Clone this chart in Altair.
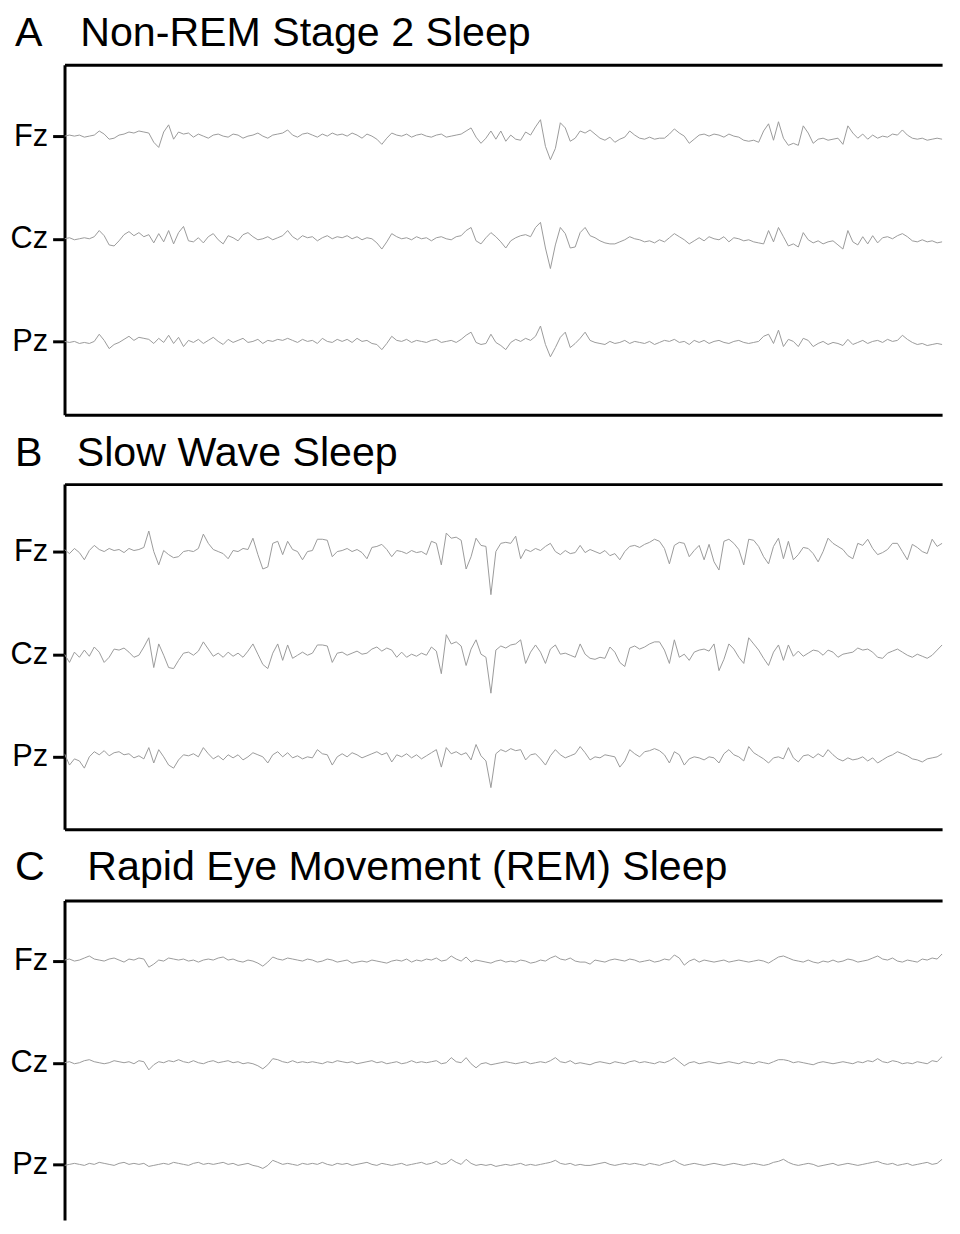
import altair as alt
import pandas as pd

FONT = "Liberation Sans"
CHANNELS = ["Fz", "Cz", "Pz"]
OFFSETS = [300, 200, 100]
STEP = 0.2  # seconds between samples

NB = "\u00a0\u00a0\u00a0"
TITLES = {
    "A": "A" + NB + "\u200a" + "Non-REM Stage 2 Sleep",
    "B": "B" + NB + "Slow Wave Sleep",
    "C": "C" + NB + "\u2009" + "Rapid Eye Movement (REM) Sleep",
}

# ---- Panel A: Non-REM stage 2 (amplitude, up = positive) ----
FZ_A = [0,1,0,1,-1,0,1, 5,2, -3,-2,1, 2,4,3,5,4, 3,-6,-11,4,11, -3,4,2,3,-1,2,
        0,-2,1,2,0,-1,2,1,-2,0,1,3,0,-2,1,2,3,6, 1,-1,2,3,1,-1,2,0,3,1,
        2,0,3,1,-2,2,0,-3,-8, -2,3,1,0,2,-1,1,2,0,-1,1,2,-1,0,1,2,5,
        8,-1,-7,-2,5,-3,5,-5,1,-3,-4,4,1, 9,16,-10,-23,-12,13,8,-5,-2,5,3,6,2,
        -2,-4,-1,-6,-3,-1,5,1, -2,-3,-1,-3,-2,-2,2, 7,3,0,-7,-3,
        1,2,0,2,1,-1,2,0,-1,-4, -5,-4,-6, 5,12,-4,14,-2,-9,-7,-9,10,
        3,-7,-3,-2,-4,-3,-2,-8, 10,3,-2,2,-3,1,-2,0,-1,2,1,
        6,1,-2,-3,-2,-4,-3,-2,-3,-4,-3]
CZ_A = [0,1,-1,0,1,0,2, 8,3, -6,-7,-2, 4,7,3,6,2, 4,-4,5,-3,8, -5,6,12,-2,-3,1,
        -4,2,5,-1,-5,3,1,-2,4,6,2,-1,0,2,-1,1,3,8, 2,-1,3,1,2,-2,1,3,0,2,
        1,3,0,2,-1,1,0,-4,-10, -3,5,2,0,1,-1,2,0,1,-2,1,2,0,-1,2,3,8,
        11,-2,-5,1,6,2,-3,-9,-2,1,3,4,2, 11,16,-9,-29,-6,11,5,-9,-8,6,11,3,1,
        -2,-4,-5,-5,-3,-1,2,0, -1,-3,-2,-4,-1,-3,1, 5,2,-1,-5,-2,
        1,-2,2,0,-1,2,-3,1,0,-2, -1,-3,-4, -5,8,-3,11,2,-7,-5,-8,6,
        -1,-4,-2,-5,-3,-2,-6,-10, 8,-3,-6,2,-5,3,-4,1,2,0,3,
        5,2,-2,-3,-1,-3,-2,-4,-3,-2,-3]
PZ_A = [0,-1,0,-2,-1,-2,0, 7,1, -7,-3,-1, 2,5,1,4,3, 2,-2,3,-1,6, -2,4,-5,1,-1,2,
        -2,1,4,0,-3,2,-1,1,3,-1,0,2,-2,1,0,2,1,3, 1,-1,2,0,1,-2,3,0,-1,2,
        0,2,-1,3,0,1,-2,-3,-8, -2,5,1,0,2,-1,1,0,-1,1,2,-1,0,1,-1,2,6,
        9,-1,-3,-2,7,-1,-4,-8,-1,2,0,3,1, 5,15,-3,-15,-6,4,9,-6,-2,3,9,1,-1,
        -2,-3,0,-2,-1,1,-2,0, -1,-2,0,-3,-1,1,0, 2,-1,0,-3,1,
        -1,1,-2,0,1,-1,-2,0,1,-1, -2,-1,0, 5,7,-2,11,-5,2,0,-5,3,
        1,-5,-2,0,-3,-1,-2,-4, 2,-3,-1,1,-2,0,1,-1,2,0,1,
        6,2,-1,-3,-2,-4,-3,-2,-3,-4,-2]

# ---- Panel B: slow wave sleep ----
FZ_B = [2,-2,3,-1,-8,1, 6,2,0,3,1,2,-1,3,1,2,4, 20,0,-13,1,-3, -6,-5,0,1,0,3,
        17,8,2,0,-2,-7, 1,0,3,2,13,-3, -17,-15,8,10,-3,10,2,0, -8,0,1,12,12,11,-5,0,
        1,3,0,2,-1,-7, 4,5,7,2,-5,1, 0,-2,1,-1,0,-3, 10,8,-13,18,13,14,11,-17,
        -5,13,6,5,-42,0, 8,9,8,15,-7,2,0, 3,1,5,8,0,-3,1,-2,-1,6,-1,2,0,
        -2,1,-4,-2,-8,0,5,6,4,7,9,12, 10,3,-12,6,9,8,-5,1, 6,-8,7,-10,-18,10,12,8,
        2,-13,12,11,5,-5,-12,5,13,-7,10,-8, -3,4,3,-2,-10,0,13,8,5,2,-4,-7,
        8,6,12,3,-3,-1,2,8,8,0,-8,7,4,0,-2,12,5,8,9,10]
CZ_B = [0,-8,2,-3,4,-2, 7,2,-8,-3,5,4,6,2,-3,-1,7, 16,-13,10,-1,-13, -14,-6,1,2,-1,3,
        12,5,-2,1,-3,2, -2,1,-3,3,10,0, -10,-14,1,10,-6,9,-4,-1, 2,-1,1,9,9,8,-8,1,
        2,-1,1,3,0,1, 5,7,3,6,4,-3, 2,-3,0,-2,1,-1, 7,3,-19,19,10,12,8,-11,
        5,14,0,-3,-38,4, 8,6,9,10,14,-9,2, 9,2,-9,5,9,0,1,-1,-3,10,0,-4,-5,
        -3,-4,7,2,-8,-12,6,8,5,7,10,12, 12,4,-9,14,-3,0,-6,2, 4,5,3,10,-16,-5,10,5,
        -3,-9,16,10,4,-4,-11,2,9,-6,9,-2, 3,-2,1,4,3,-1,4,2,-3,0,1,2,
        6,4,5,2,-3,-4,1,3,5,2,-1,-3,0,-2,-4,-1,4,9,7,6]
PZ_B = [3,-8,-2,-4,-11,0, 5,2,6,1,4,5,2,3,-1,1,-2, 9,-6,7,0,-8, -11,-3,2,1,3,0,
        9,3,-2,1,-3,2, -1,2,-3,0,4,2, 0,-6,2,5,0,4,-1,1, -2,0,-1,7,3,2,-8,0,
        3,0,4,2,-1,1, 3,5,2,4,-5,2, 0,3,-1,2,-2,1, 4,7,-10,9,3,5,2,4,
        -3,12,1,-4,-30,3, 7,5,8,6,7,-3,2, 3,-2,-8,1,7,2,-1,1,3,10,4,-3,0,
        -1,2,1,0,-10,-4,7,3,0,5,6,8, 6,2,-6,5,2,-8,-2,0, -1,-3,0,-1,-6,3,7,2,
        0,-4,10,4,1,-2,-6,-1,0,-2,9,-1, -5,1,2,-1,3,0,7,2,-2,-4,-1,-3,
        -2,0,-4,-1,-6,-3,0,2,5,3,1,-2,-3,-5,-2,-1,0,3,5,2]

# ---- Panel C: REM sleep ----
FZ_C = [1,2,0,1,3,5,2,1,0,2,3,1,-1,2,1,3,2, -6,-3,1,0,3,2,1,2,0,1,-1,1,2,1,3,4,
        1,2,0,-1,1,0,-2,-5,-1,4,2,1,3,2,1,0,2, 1,-1,0,2,1,-1,0,1,-2,-1,0,-1,1,0,-1,-2,0,
        1,0,2,-1,1,0,2,1,3,0,1,5,2,0,4,-1,1, 0,-1,-2,0,1,-1,0,-1,1,0,-2,-1,1,0,3,5,
        2,1,3,0,-1,-1,-3,1,0,-1,1,2,1,0,2,1, -1,0,1,-1,0,2,1,6,3,-4,0,2,-1,1,0,-1,
        0,1,-1,0,1,0,-1,0,1,0,-2,1,4,5,3,1, 0,-1,1,-1,-2,0,-1,1,-1,0,2,1,-1,0,1,3,
        5,2,1,3,0,-1,1,0,-1,2,1,3,2,7,0,-2]
CZ_C = [0,1,-1,0,2,3,1,0,-1,0,2,1,0,1,-1,2,1, -7,-2,1,0,2,1,3,1,0,2,0,-1,1,2,0,1,
        2,0,1,-1,0,-1,-3,-6,-2,4,3,1,0,2,0,1,0, 1,0,-1,1,0,2,1,0,1,-1,0,1,2,0,1,-1,0,
        1,-1,0,2,0,1,0,1,2,-1,0,5,1,0,5,-1,-5, -1,0,-2,-1,0,1,0,-1,0,1,-1,0,1,0,2,5,
        1,0,2,-1,0,-1,-2,0,1,0,-1,1,0,-1,1,2, 0,1,0,-1,1,0,2,5,1,-3,0,1,-1,0,1,0,
        -1,0,1,0,-1,1,0,-1,1,0,-1,1,3,3,2,0, 1,0,-1,-2,0,1,0,-1,0,1,0,-1,1,0,2,1,
        4,1,0,2,1,-1,0,-1,1,0,-1,2,1,6,-2,-5]
PZ_C = [-1,0,1,0,-1,1,0,2,1,0,-1,1,2,0,1,0,1, -2,-1,0,1,0,2,1,0,-1,1,2,0,1,0,1,2,
        0,1,-1,0,1,-1,-2,-4,-1,4,2,0,1,0,-1,1,0, 1,0,2,0,-1,1,0,1,-1,0,1,2,0,-1,1,0,-1,
        0,1,-1,0,1,2,0,1,3,0,1,5,2,0,5,1,-1, 0,-1,0,-2,-1,0,-1,0,1,-1,0,-1,0,1,2,4,
        1,0,1,-1,0,-1,-1,0,1,2,0,-1,0,1,0,1, 0,-1,1,0,-1,1,2,4,1,-1,0,1,0,-1,0,1,
        0,-1,0,1,0,-1,0,1,0,-1,0,2,3,5,2,0, -1,0,1,0,-2,-1,0,1,-1,0,1,0,-1,0,1,2,
        3,1,0,1,-1,0,1,-1,0,1,2,0,1,5,1,-1]

TRACES = {
    "A": [FZ_A, CZ_A, PZ_A],
    "B": [FZ_B, CZ_B, PZ_B],
    "C": [FZ_C, CZ_C, PZ_C],
}

rows = []
for panel, arrs in TRACES.items():
    for ch, off, arr in zip(CHANNELS, OFFSETS, arrs):
        for i, v in enumerate(arr):
            rows.append({"panel": panel, "channel": ch, "t": round(i * STEP, 3), "y": off + v})
df = pd.DataFrame(rows)

PLOT_W = 885
XMAX = PLOT_W / 25.0
LAYOUT = {  # height, y-domain, bottom border, title offset
    "A": (353, [28.6, 369.6], True, 10),
    "B": (348, [29.5, 365.7], True, 10),
    "C": (322, [45.4, 359.5], False, 12),
}

label_expr = "datum.value == 300 ? 'Fz' : datum.value == 200 ? 'Cz' : 'Pz'"


def yaxis():
    return alt.Axis(values=OFFSETS, labelExpr=label_expr, title=None, grid=False,
                    labelFont=FONT, labelFontSize=31, labelColor="black", labelPadding=5,
                    tickSize=12, tickWidth=3, tickColor="black",
                    domainColor="black", domainWidth=3)


def xaxis(orient):
    return alt.Axis(orient=orient, ticks=False, labels=False, title=None,
                    grid=False, domainWidth=3, domainColor="black")


def panel(key):
    h, dom, bottom, toff = LAYOUT[key]
    xscale = alt.Scale(domain=[0, XMAX], nice=False, zero=False)
    yscale = alt.Scale(domain=dom, nice=False, zero=False)
    base = alt.Chart(df).transform_filter(alt.datum.panel == key)
    lines = base.mark_line(clip=True, stroke="#9a9a9a", strokeWidth=1).encode(
        x=alt.X("t:Q", scale=xscale, axis=xaxis("top")),
        y=alt.Y("y:Q", scale=yscale, axis=yaxis()),
        detail="channel:N",
        order="t:Q",
    )
    layers = [lines]
    if bottom:
        layers.append(
            base.mark_line(opacity=0).encode(
                x=alt.X("t:Q", scale=xscale, axis=xaxis("bottom")),
                y=alt.Y("y:Q", scale=yscale, axis=yaxis()),
                detail="channel:N",
            )
        )
    ch = alt.layer(*layers).properties(
        width=PLOT_W, height=h,
        title=alt.TitleParams(text=TITLES[key], anchor="start", frame="bounds",
                              fontSize=41.5, fontWeight="normal", offset=toff, dx=5,
                              color="black", font=FONT),
    )
    if bottom:
        ch = ch.resolve_axis(x="independent")
    return ch


chart = alt.vconcat(panel("A"), panel("B"), panel("C"), spacing=18).properties(
    padding={"left": 2, "top": 0, "right": 0, "bottom": 0},
    background="white",
).configure_view(stroke=None, strokeWidth=0)

chart.save("out.html", embed_options={"renderer": "svg", "actions": False})
